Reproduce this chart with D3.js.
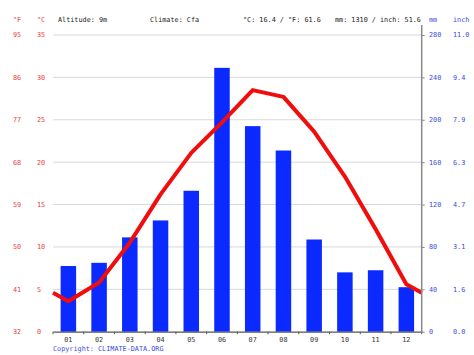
<!DOCTYPE html>
<html><head><meta charset="utf-8">
<script src="https://cdn.jsdelivr.net/npm/d3@7"></script>
<style>
html,body{margin:0;padding:0;background:#fff;}
svg text{font-family:"DejaVu Sans Mono",monospace;font-size:6.8px;}
</style></head>
<body><svg id="c" width="474" height="355"></svg>
<script>
const months = ["01","02","03","04","05","06","07","08","09","10","11","12"];
const precipMm = [62,65,89,105,133,249,194,171,87,56,58,42];
const tempC = [3.6,5.8,10.5,16.2,21.1,24.7,28.5,27.7,23.6,18.3,12.1,5.6];
const cTicks = [0,5,10,15,20,25,30,35];
const fLabels = ["32","41","50","59","68","77","86","95"];
const mmTicks = [0,40,80,120,160,200,240,280];
const inchLabels = ["0.0","1.6","3.1","4.7","6.3","7.9","9.4","11.0"];
const headerItems = [
  {t:"°F", x:13, c:"#e8413c"},
  {t:"°C", x:37, c:"#e8413c"},
  {t:"Altitude: 9m", x:58, c:"#222"},
  {t:"Climate: Cfa", x:150, c:"#222"},
  {t:"°C: 16.4 / °F: 61.6", x:243, c:"#222"},
  {t:"mm: 1310 / inch: 51.6", x:335, c:"#222"},
  {t:"mm", x:429, c:"#3a4de0"},
  {t:"inch", x:453, c:"#3a4de0"}
];

const svg = d3.select("#c");
const L = 53, R = 421.7, T = 35, B = 331.7;
const red = "#e8413c", blue = "#3a4de0";

const x = d3.scaleBand().domain(months).range([L, R]).paddingInner(0).paddingOuter(0);
const yT = d3.scaleLinear().domain([0,35]).range([B,T]);
const yP = d3.scaleLinear().domain([0,280]).range([B,T]);

// gridlines
svg.append("g").selectAll("line").data(cTicks.filter(d=>d>0)).join("line")
  .attr("x1",L).attr("x2",R).attr("y1",d=>yT(d)).attr("y2",d=>yT(d))
  .attr("stroke","#d8d8d8").attr("stroke-width",1);

// bars
const bw = 15.5;
svg.append("g").selectAll("rect").data(precipMm).join("rect")
  .attr("x",(d,i)=>x(months[i])+x.bandwidth()/2-bw/2)
  .attr("width",bw)
  .attr("y",d=>yP(d)).attr("height",d=>B-yP(d))
  .attr("fill","#0a2aff");

// temperature line with edge extrapolation
const edge = (tempC[0]+tempC[11])/2;
const pts = [[L,edge]].concat(tempC.map((v,i)=>[x(months[i])+x.bandwidth()/2, v])).concat([[R,edge]]);
svg.append("path").datum(pts)
  .attr("d", d3.line().x(d=>d[0]).y(d=>yT(d[1])))
  .attr("fill","none").attr("stroke","#f00d0d").attr("stroke-width",4)
  .attr("stroke-linejoin","round").attr("stroke-linecap","butt");

// bottom axis
const xa = svg.append("g").attr("transform",`translate(0,${B})`)
  .call(d3.axisBottom(x).tickSize(0).tickPadding(5));
xa.select(".domain").attr("stroke","#555").attr("stroke-width",1.2);
xa.selectAll("text").attr("fill","#333").style("font-family","DejaVu Sans Mono").style("font-size","6.8px");
xa.selectAll(".sep").data(d3.range(13)).join("line").attr("class","sep")
  .attr("x1",i=>L+i*x.step()).attr("x2",i=>L+i*x.step()).attr("y1",0).attr("y2",2.5)
  .attr("stroke","#555").attr("stroke-width",1);

// right axis
const ya = svg.append("g").attr("transform",`translate(${R},0)`)
  .call(d3.axisRight(yP).tickValues(mmTicks).tickSize(3).tickFormat(""));
ya.select(".domain").attr("stroke","#888").attr("stroke-width",1.5).attr("d",`M0,${T-10}V${B+1}`);
ya.selectAll(".tick line").attr("stroke","#888");

// left labels
svg.append("g").selectAll("text").data(cTicks).join("text")
  .attr("x",37).attr("y",d=>yT(d)).attr("dy","0.35em").attr("fill",red).text(d=>d);
svg.append("g").selectAll("text").data(cTicks).join("text")
  .attr("x",13).attr("y",d=>yT(d)).attr("dy","0.35em").attr("fill",red).text((d,i)=>fLabels[i]);
// right labels
svg.append("g").selectAll("text").data(mmTicks).join("text")
  .attr("x",429).attr("y",d=>yP(d)).attr("dy","0.35em").attr("fill",blue).text(d=>d);
svg.append("g").selectAll("text").data(mmTicks).join("text")
  .attr("x",453).attr("y",d=>yP(d)).attr("dy","0.35em").attr("fill",blue).text((d,i)=>inchLabels[i]);

// header
svg.append("g").selectAll("text").data(headerItems).join("text")
  .attr("x",d=>d.x).attr("y",20).attr("dy","0.35em").attr("fill",d=>d.c).text(d=>d.t);

// copyright
svg.append("text").attr("x",53).attr("y",348.5).attr("dy","0.35em").attr("fill",blue).text("Copyright: CLIMATE-DATA.ORG");
</script></body></html>
